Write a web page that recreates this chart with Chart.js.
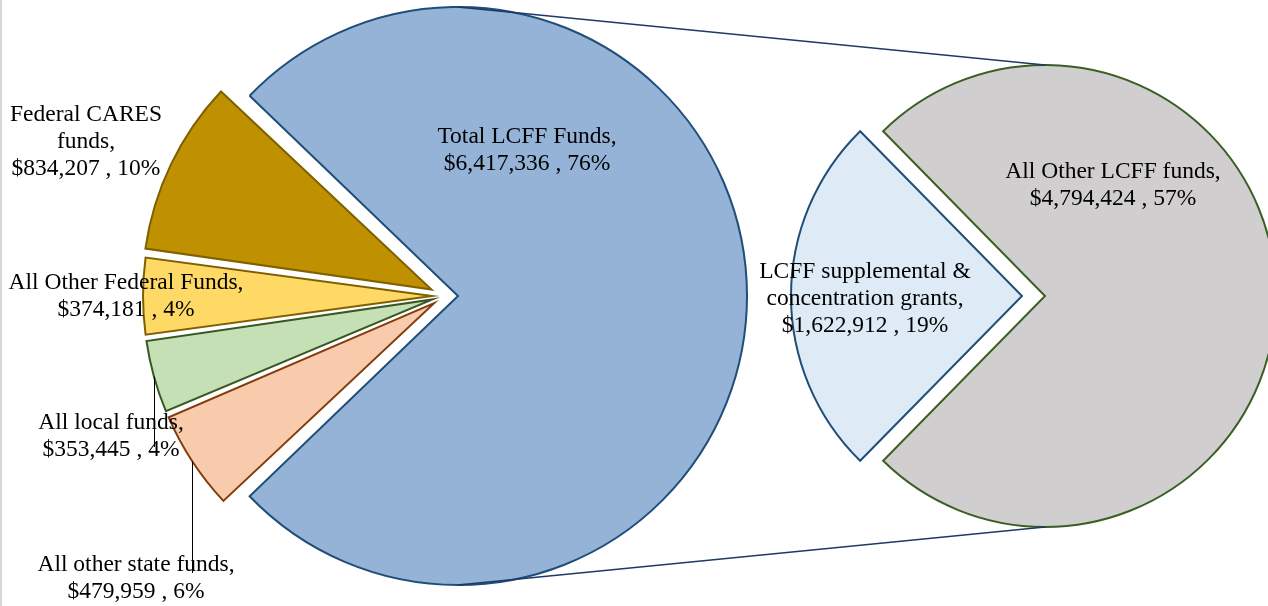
<!DOCTYPE html>
<html>
<head>
<meta charset="utf-8">
<script src="https://cdn.jsdelivr.net/npm/chart.js@4.4.0/dist/chart.umd.min.js"></script>
<style>
  html, body { margin: 0; padding: 0; background: #fff; }
  #wrap { position: relative; width: 1268px; height: 606px; overflow: hidden; }
  #wrap canvas { position: absolute; left: 0; top: 0; }
  #edge { position: absolute; left: 0; top: 0; width: 2px; height: 606px; background: #d6d6d6; }
</style>
</head>
<body>
<div id="wrap">
  <canvas id="detailChart" width="1268" height="606"></canvas>
  <canvas id="mainChart" width="1268" height="606"></canvas>
  <div id="edge"></div>
</div>
<script>
// All funds (first pie), clockwise from the LCFF slice
const mainLabels = ["Total LCFF Funds", "All other state funds", "All local funds", "All Other Federal Funds", "Federal CARES funds"];
const mainValues = [6417336, 479959, 353445, 374181, 834207];

// LCFF breakdown (second pie)
const detailLabels = ["All Other LCFF funds", "LCFF supplemental & concentration grants"];
const detailValues = [4794424, 1622912];

const grandTotal = mainValues.reduce((a, b) => a + b, 0);
const FONT = '23.5px "Liberation Serif", "Times New Roman", serif';

function wrap(ctx, text, maxW) {
    const words = text.split(' ');
    const lines = [];
    let cur = '';
    words.forEach(w => {
        const test = cur ? cur + ' ' + w : w;
        if (cur && ctx.measureText(test).width > maxW) {
            lines.push(cur);
            cur = w;
        } else {
            cur = test;
        }
    });
    if (cur) lines.push(cur);
    return lines;
}

let detailChart = null;

const pieLabels = {
    id: 'pieLabels',
    afterDatasetsUpdate(chart, args, opts) {
        // chart.js grows an offset slice by offset/4*fix, take that back off
        chart.getDatasetMeta(0).data.forEach(arc => {
            const fix = 1 - Math.sin(Math.min(Math.PI, arc.circumference || 0));
            arc.outerRadius = opts.radius - (arc.options.offset || 0) / 4 * fix;
        });
    },
    afterDatasetsDraw(chart, args, opts) {
        const ctx = chart.ctx;
        const meta = chart.getDatasetMeta(0);
        const values = chart.data.datasets[0].data;

        ctx.save();

        // lines joining the LCFF slice to the second pie
        if (opts.connectTo) {
            const blue = meta.data[0];
            const mid = (blue.startAngle + blue.endAngle) / 2;
            const bx = blue.x + Math.cos(mid) * opts.shifts[0];
            const by = blue.y + Math.sin(mid) * opts.shifts[0];
            const other = opts.connectTo.getDatasetMeta(0).data[0];
            const rr = opts.connectTo.options.plugins.pieLabels.radius;
            ctx.strokeStyle = '#1F3864';
            ctx.lineWidth = 1.5;
            ctx.beginPath();
            ctx.moveTo(bx, by - opts.radius);
            ctx.lineTo(other.x, other.y - rr);
            ctx.moveTo(bx, by + opts.radius);
            ctx.lineTo(other.x, other.y + rr);
            ctx.stroke();
        }

        ctx.font = FONT;
        ctx.fillStyle = '#000';
        ctx.textAlign = 'center';
        ctx.textBaseline = 'middle';

        opts.boxes.forEach((box, i) => {
            const pct = Math.round(values[i] / grandTotal * 100);
            const lines = wrap(ctx, chart.data.labels[i] + ',', box.w);
            lines.push('$' + values[i].toLocaleString('en-US') + ' , ' + pct + '%');

            if (box.leader) {
                const arc = meta.data[i];
                const mid = (arc.startAngle + arc.endAngle) / 2;
                const sx = arc.x + Math.cos(mid) * (opts.shifts[i] + opts.radius);
                const sy = arc.y + Math.sin(mid) * (opts.shifts[i] + opts.radius);
                ctx.strokeStyle = '#000';
                ctx.lineWidth = 1;
                ctx.beginPath();
                ctx.moveTo(Math.round(sx) + 0.5, sy);
                ctx.lineTo(Math.round(sx) + 0.5, box.leader);
                ctx.stroke();
            }

            lines.forEach((ln, k) => {
                ctx.fillText(ln, box.x, box.y + k * 27);
            });
        });
        ctx.restore();
    }
};

function makePie(canvasId, labels, values, colors, borders, shifts, radius, padding, boxes, connectTo) {
    const total = values.reduce((a, b) => a + b, 0);
    const frac = values[0] / total;
    return new Chart(document.getElementById(canvasId), {
        type: 'pie',
        data: {
            labels: labels,
            datasets: [{
                data: values,
                backgroundColor: colors,
                borderColor: borders,
                borderWidth: 2,
                borderJoinStyle: 'miter',
                // slices move out by offset/4
                offset: shifts.map(s => s * 4),
                radius: radius,
                clip: false
            }]
        },
        options: {
            responsive: false,
            animation: false,
            events: [],
            // first slice centred on the right-hand side
            rotation: 90 - 180 * frac,
            layout: { padding: padding },
            plugins: {
                legend: { display: false },
                tooltip: { enabled: false },
                pieLabels: { radius: radius, shifts: shifts, boxes: boxes, connectTo: connectTo }
            }
        },
        plugins: [pieLabels]
    });
}

detailChart = makePie('detailChart', detailLabels, detailValues,
    ['#D0CECE', '#DEEBF7'],
    ['#3B5E23', '#1F4E79'],
    [0, 23], 231,
    { left: 822, right: 0, top: 0, bottom: 14 },
    [
        { x: 1113, y: 172, w: 260 },
        { x: 865, y: 272, w: 218 }
    ],
    null);

makePie('mainChart', mainLabels, mainValues,
    ['#95B3D7', '#F8CBAD', '#C5E0B4', '#FFD966', '#BF9000'],
    ['#1F4E79', '#843C0C', '#385723', '#7F6000', '#7F6000'],
    [13, 13, 13, 13, 15], 289,
    { left: 0, right: 378, top: 0, bottom: 14 },
    [
        { x: 527, y: 137, w: 260 },
        { x: 136, y: 565, w: 260, leader: 573 },
        { x: 111, y: 423, w: 260, leader: 447 },
        { x: 126, y: 283, w: 260 },
        { x: 86, y: 115, w: 160 }
    ],
    detailChart);
</script>
</body>
</html>
